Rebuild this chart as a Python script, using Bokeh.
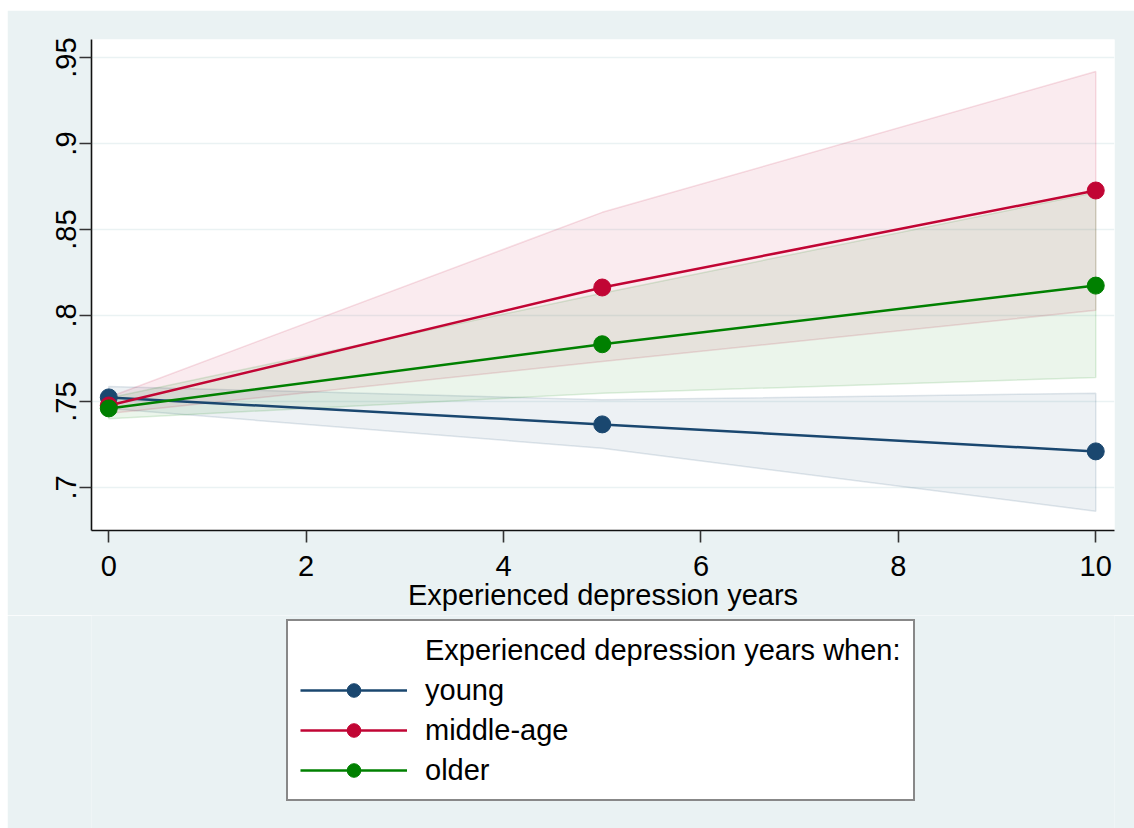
from bokeh.plotting import figure
from bokeh.layouts import column
from bokeh.models import (Range1d, FixedTicker, Legend, LegendItem)
from bokeh.embed import file_html
from bokeh.resources import INLINE

# ---- data ----
years = [0, 5, 10]
young = [0.7524, 0.7367, 0.7210]
young_lo = [0.7460, 0.7228, 0.6862]
young_hi = [0.7588, 0.7510, 0.7548]
middle = [0.7477, 0.8163, 0.8727]
middle_lo = [0.7430, 0.7733, 0.8030]
middle_hi = [0.7525, 0.8600, 0.9419]
older = [0.7460, 0.7833, 0.8174]
older_lo = [0.7400, 0.7548, 0.7640]
older_hi = [0.7520, 0.8130, 0.8715]

series_names = ["young", "middle-age", "older"]
legend_title = "Experienced depression years when:"
x_title = "Experienced depression years"
x_ticks = [0, 2, 4, 6, 8, 10]
y_ticks = [0.7, 0.75, 0.8, 0.85, 0.9, 0.95]
y_tick_labels = [".7", ".75", ".8", ".85", ".9", ".95"]

colors = ["#1A476F", "#C10534", "#008000"]
BG = "#EAF2F3"
FONT = "Liberation Sans"
FS = "29px"

p = figure(frame_width=1023, frame_height=491, output_backend="svg", toolbar_location=None,
           x_range=Range1d(-0.175, 10.19), y_range=Range1d(0.675, 0.9605),
           min_border_left=84, min_border_top=29, min_border_right=20, min_border_bottom=85)
p.margin = (10, 0, 0, 7)
p.background_fill_color = "white"
p.border_fill_color = BG
p.outline_line_color = None

# grid
p.xgrid.visible = False
p.ygrid.ticker = FixedTicker(ticks=y_ticks)
p.ygrid.grid_line_color = BG
p.ygrid.grid_line_width = 1.5

# axes
p.xaxis.ticker = FixedTicker(ticks=x_ticks)
p.yaxis.ticker = FixedTicker(ticks=y_ticks)
p.yaxis.major_label_overrides = {t: l for t, l in zip(y_ticks, y_tick_labels)}
p.yaxis.major_label_orientation = "vertical"
for ax in (p.xaxis[0], p.yaxis[0]):
    ax.axis_line_color = "#111111"
    ax.axis_line_width = 1.6
    ax.major_tick_line_color = "#333333"
    ax.major_tick_line_width = 1.6
    ax.major_tick_out = 12
    ax.major_tick_in = 0
    ax.minor_tick_line_color = None
    ax.major_label_text_font = FONT
    ax.major_label_text_font_size = FS
    ax.major_label_text_color = "black"
p.xaxis.major_label_standoff = 13
p.yaxis.major_label_standoff = 3
p.xaxis.axis_label = x_title
p.xaxis.axis_label_text_font = FONT
p.xaxis.axis_label_text_font_size = FS
p.xaxis.axis_label_text_font_style = "normal"
p.xaxis.axis_label_text_color = "black"
p.xaxis.axis_label_standoff = 0

# CI bands
bands = [(young_lo, young_hi), (middle_lo, middle_hi), (older_lo, older_hi)]
for (lo, hi), c in zip(bands, colors):
    xs = years + years[::-1]
    ys = hi + lo[::-1]
    p.patch(xs, ys, fill_color=c, fill_alpha=0.08, line_color=c, line_alpha=0.13, line_width=1.5)

# lines + markers
series = [young, middle, older]
for vals, c in zip(series, colors):
    p.line(years, vals, line_color=c, line_width=2.5)
    p.scatter(years, vals, size=17, fill_color=c, line_color=c)

# ---- legend strip below the plot (its ranges keep its own copies of the series off-screen) ----
q = figure(width=1127, height=213, output_backend="svg", toolbar_location=None,
           x_range=Range1d(100, 101), y_range=Range1d(0, 1),
           x_axis_type=None, y_axis_type=None, min_border=0)
q.margin = (0, 0, 0, 7)
q.background_fill_color = BG
q.border_fill_color = BG
q.outline_line_color = None
q.xgrid.visible = False
q.ygrid.visible = False

items = []
dummy = q.scatter(years, young, alpha=0)
items.append(LegendItem(label=legend_title, renderers=[dummy]))
for vals, c, name in zip(series, colors, series_names):
    lr = q.line(years, vals, line_color=c, line_width=2.5)
    sr = q.scatter(years, vals, size=17, fill_color=c, line_color=c)
    items.append(LegendItem(label=name, renderers=[lr, sr], index=0))

legend = Legend(items=items, location=(195, 27), orientation="vertical")
legend.label_text_font = FONT
legend.label_text_font_size = FS
legend.label_text_color = "black"
legend.glyph_width = 107
legend.glyph_height = 34
legend.label_height = 34
legend.label_standoff = 18
legend.spacing = 6
legend.padding = 12
legend.margin = 0
legend.border_line_color = "#111111"
legend.border_line_width = 2
legend.background_fill_color = "white"
legend.background_fill_alpha = 1
q.add_layout(legend, "center")

layout = column(p, q, spacing=0)
open("out.html", "w").write(file_html(layout, INLINE))
